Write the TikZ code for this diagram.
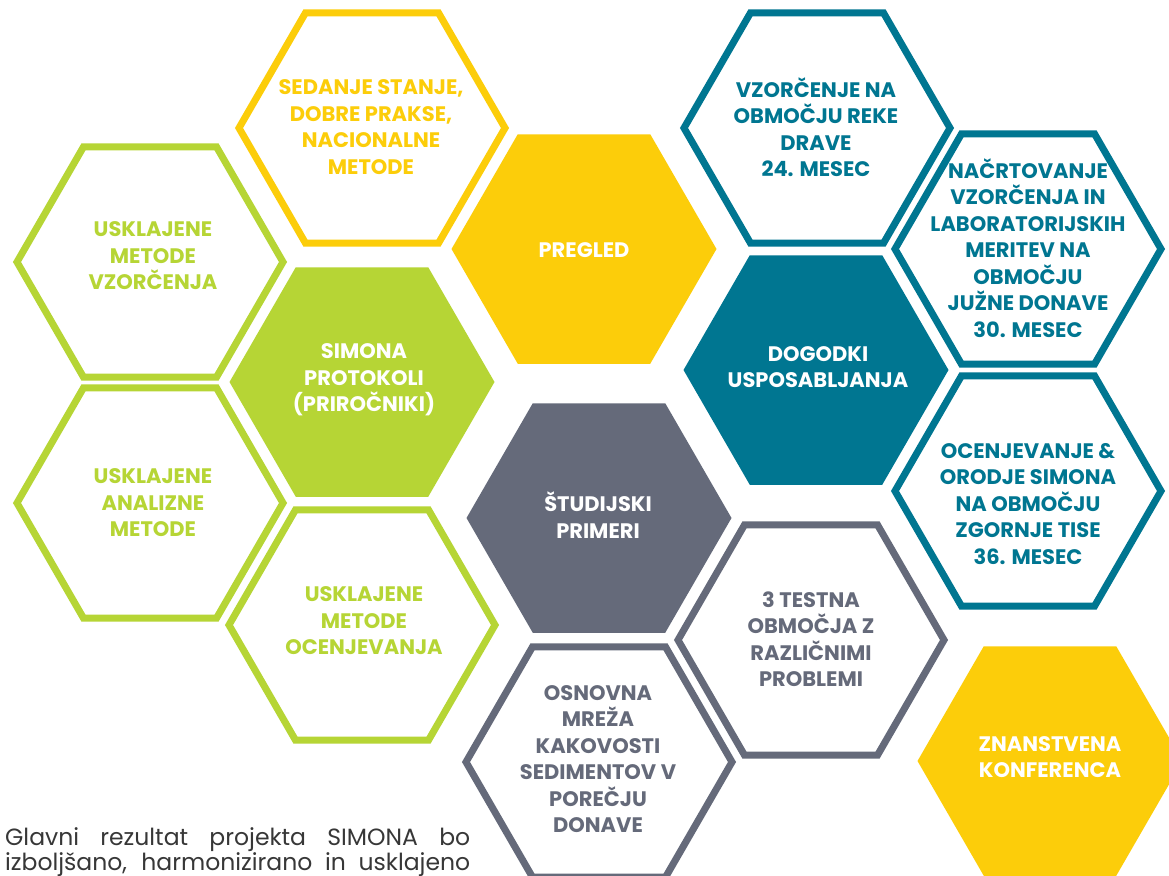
\documentclass[tikz,border=0pt]{standalone}
\usepackage{fontspec}
\setmainfont{Poppins}
\definecolor{hyellow}{RGB}{252,205,10}
\definecolor{hgreen}{RGB}{182,213,53}
\definecolor{hteal}{RGB}{0,118,145}
\definecolor{hgrey}{RGB}{101,106,122}
\definecolor{bodytext}{RGB}{55,55,55}
\newcommand{\hexat}[3]{% cx, cy, R
  (#1+#3,#2) -- (#1+#3/2,#2+0.8660254*#3) -- (#1-#3/2,#2+0.8660254*#3) --
  (#1-#3,#2) -- (#1-#3/2,#2-0.8660254*#3) -- (#1+#3/2,#2-0.8660254*#3) -- cycle}
\tikzset{
  hexline/.style={draw=#1, line width=7pt, line join=miter, fill=white},
  hexfill/.style={fill=#1, draw=none},
  hextext/.style={text=#1, align=center, inner sep=0pt,
    font=\fontsize{21}{26.5}\selectfont\bfseries},
  bodyline/.style={text=bodytext, anchor=base west, inner sep=0pt,
    font=\fontsize{23.5}{25}\selectfont}
}
\begin{document}
\begin{tikzpicture}[x=1pt,y=-1pt]
\useasboundingbox (0,0) rectangle (1169,875);
\clip (0,0) rectangle (1169,875);
\fill[white] (0,0) rectangle (1169,875);
% outlined hexagons
\path[hexline=hyellow] \hexat{372}{128}{133};
\path[hexline=hgreen]  \hexat{150}{262}{133};
\path[hexline=hgreen]  \hexat{150}{503}{133};
\path[hexline=hgreen]  \hexat{362}{625}{133};
\path[hexline=hgrey]   \hexat{599}{762}{133};
\path[hexline=hgrey]   \hexat{811}{640}{133};
\path[hexline=hteal]   \hexat{817}{128}{133};
\path[hexline=hteal]   \hexat{1028}{249}{133};
\path[hexline=hteal]   \hexat{1028}{491}{133};
% filled hexagons
\path[hexfill=hyellow] \hexat{584}{249}{132.5};
\path[hexfill=hgreen]  \hexat{362}{382}{132.5};
\path[hexfill=hgrey]   \hexat{599}{518}{132.5};
\path[hexfill=hteal]   \hexat{816}{370}{132.5};
\path[hexfill=hyellow] \hexat{1050}{761}{132.5};
% texts
\node[hextext=hyellow] (sedanje) at (371,127) {SEDANJE STANJE,\\DOBRE PRAKSE,\\NACIONALNE\\METODE};
\node[hextext=white] (pregled) at (584,250) {PREGLED};
\node[hextext=hgreen] (vzorcenja) at (153,256) {USKLAJENE\\METODE\\VZORČENJA};
\node[hextext=white] (protokoli) at (364,380) {SIMONA\\PROTOKOLI\\(PRIROČNIKI)};
\node[hextext=hgreen] (analizne) at (153,503) {USKLAJENE\\ANALIZNE\\METODE};
\node[hextext=hgreen] (ocenjevanja) at (364,621) {USKLAJENE\\METODE\\OCENJEVANJA};
\node[hextext=white] (studijski) at (598,515) {ŠTUDIJSKI\\PRIMERI};
\node[hextext=hgrey] (osnovna) at (598,759) {OSNOVNA\\MREŽA\\KAKOVOSTI\\SEDIMENTOV V\\POREČJU\\DONAVE};
\node[hextext=hgrey] (testna) at (811,639) {3 TESTNA\\OBMOČJA Z\\RAZLIČNIMI\\PROBLEMI};
\node[hextext=hteal] (drave) at (816,127) {VZORČENJE NA\\OBMOČJU REKE\\DRAVE\\24. MESEC};
\node[hextext=white] (dogodki) at (818,367) {DOGODKI\\USPOSABLJANJA};
\node[hextext=hteal] (nacrtovanje) at (1028,248) {NAČRTOVANJE\\VZORČENJA IN\\LABORATORIJSKIH\\MERITEV NA\\OBMOČJU\\JUŽNE DONAVE\\30. MESEC};
\node[hextext=hteal] (tise) at (1028,504) {OCENJEVANJE \&\\ORODJE SIMONA\\NA OBMOČJU\\ZGORNJE TISE\\36. MESEC};
\node[hextext=white] (konferenca) at (1050,757) {ZNANSTVENA\\KONFERENCA};
% body text
\node[bodyline] (body1) at (5,845) {\makebox[465pt][s]{Glavni rezultat projekta SIMONA bo}};
\node[bodyline] (body2) at (5,870) {\makebox[465pt][s]{izboljšano, harmonizirano in usklajeno}};
\end{tikzpicture}
\end{document}
